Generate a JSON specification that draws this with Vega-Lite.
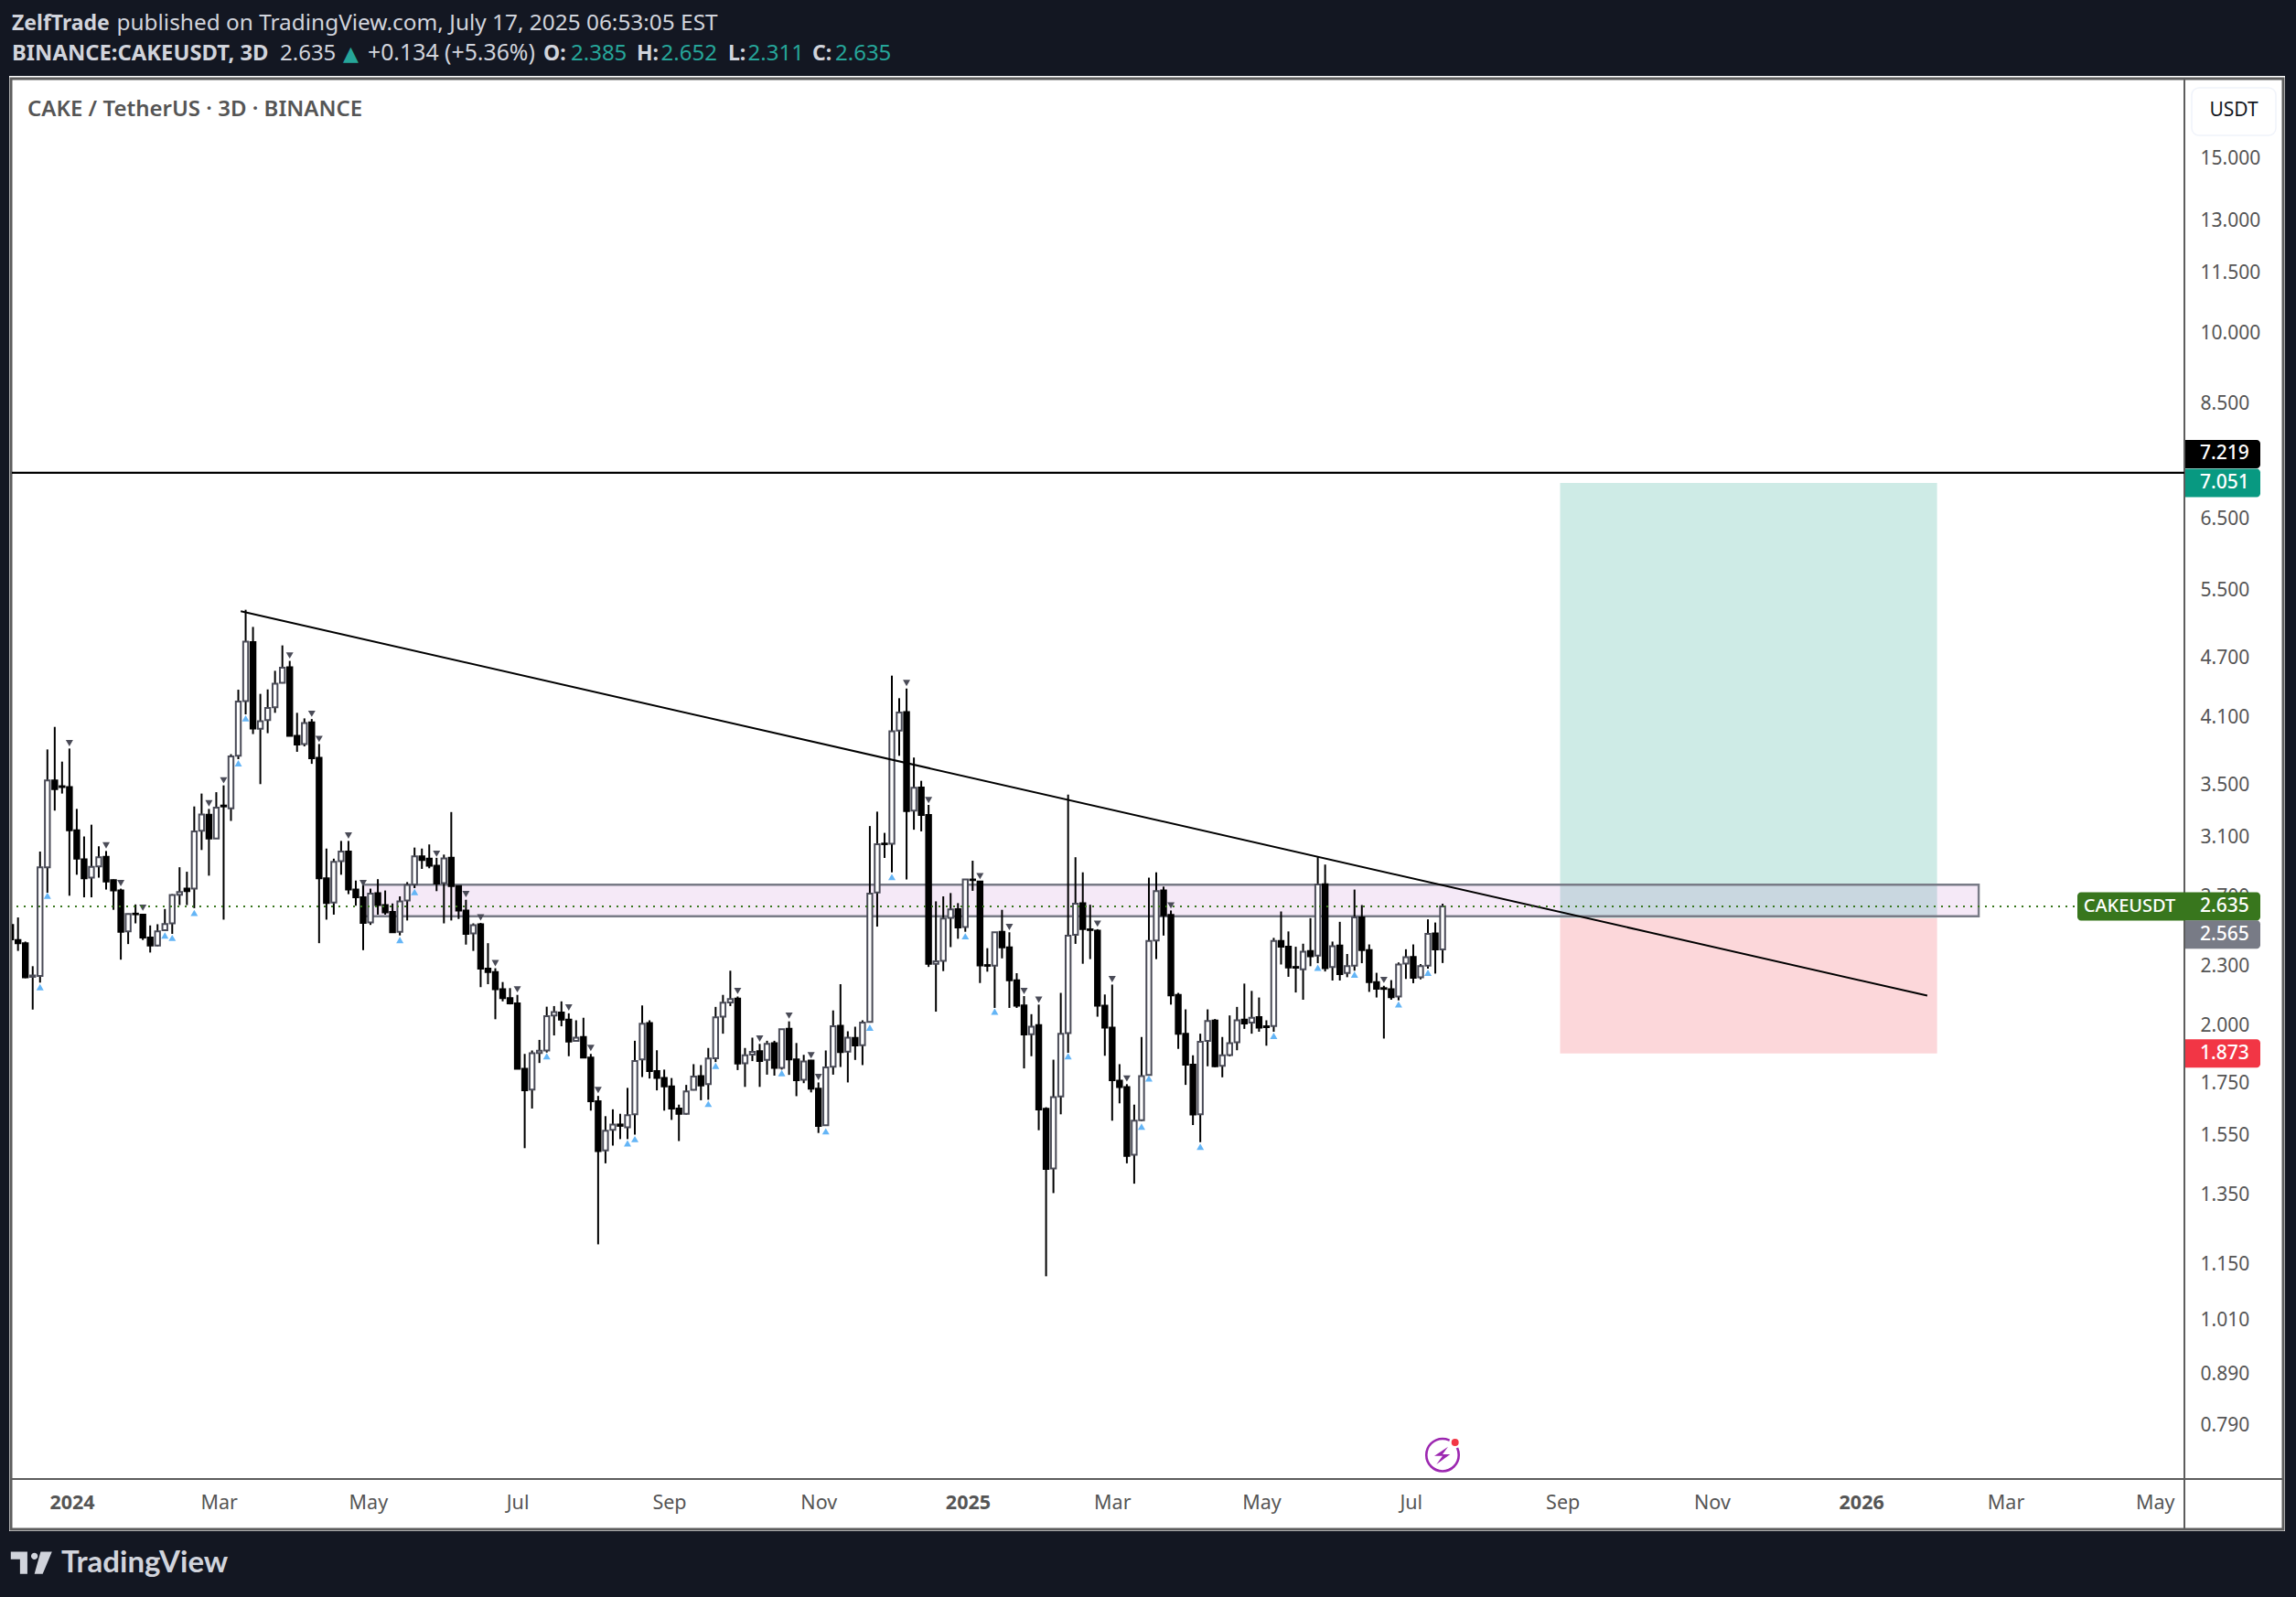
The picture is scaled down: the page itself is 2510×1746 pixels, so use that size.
{"$schema":"https://vega.github.io/schema/vega-lite/v6.json","width":2375,"height":1530,"autosize":"none","padding":{"left":13,"top":87,"right":122,"bottom":129},"background":"#ffffff","config":{"view":{"stroke":null},"font":"Noto Sans"},
"datasets":{"candles":[
{"date":"2023-12-07","open":2.525,"high":2.544,"low":2.429,"close":2.441},
{"date":"2023-12-10","open":2.438,"high":2.569,"low":2.377,"close":2.420},
{"date":"2023-12-13","open":2.420,"high":2.429,"low":2.231,"close":2.235},
{"date":"2023-12-16","open":2.238,"high":2.294,"low":2.074,"close":2.245},
{"date":"2023-12-19","open":2.242,"high":2.994,"low":2.208,"close":2.887},
{"date":"2023-12-22","open":2.887,"high":3.796,"low":2.721,"close":3.533},
{"date":"2023-12-25","open":3.533,"high":4.000,"low":3.293,"close":3.461},
{"date":"2023-12-28","open":3.485,"high":3.690,"low":3.426,"close":3.478},
{"date":"2023-12-31","open":3.478,"high":3.804,"low":2.702,"close":3.145},
{"date":"2024-01-03","open":3.145,"high":3.306,"low":2.837,"close":2.945},
{"date":"2024-01-06","open":2.940,"high":3.101,"low":2.692,"close":2.814},
{"date":"2024-01-09","open":2.818,"high":3.187,"low":2.692,"close":2.889},
{"date":"2024-01-12","open":2.893,"high":3.031,"low":2.818,"close":2.955},
{"date":"2024-01-15","open":2.958,"high":2.998,"low":2.741,"close":2.793},
{"date":"2024-01-18","open":2.802,"high":2.806,"low":2.615,"close":2.735},
{"date":"2024-01-21","open":2.735,"high":2.747,"low":2.329,"close":2.485},
{"date":"2024-01-24","open":2.487,"high":2.592,"low":2.415,"close":2.590},
{"date":"2024-01-27","open":2.592,"high":2.648,"low":2.534,"close":2.588},
{"date":"2024-01-30","open":2.586,"high":2.590,"low":2.438,"close":2.452},
{"date":"2024-02-02","open":2.452,"high":2.522,"low":2.368,"close":2.407},
{"date":"2024-02-05","open":2.407,"high":2.529,"low":2.403,"close":2.487},
{"date":"2024-02-08","open":2.494,"high":2.620,"low":2.490,"close":2.530},
{"date":"2024-02-11","open":2.534,"high":2.712,"low":2.473,"close":2.706},
{"date":"2024-02-14","open":2.708,"high":2.887,"low":2.644,"close":2.725},
{"date":"2024-02-17","open":2.747,"high":2.857,"low":2.644,"close":2.731},
{"date":"2024-02-20","open":2.747,"high":3.325,"low":2.625,"close":3.138},
{"date":"2024-02-23","open":3.142,"high":3.426,"low":3.005,"close":3.264},
{"date":"2024-02-26","open":3.262,"high":3.306,"low":2.831,"close":3.087},
{"date":"2024-02-29","open":3.087,"high":3.437,"low":3.086,"close":3.315},
{"date":"2024-03-03","open":3.332,"high":3.492,"low":2.556,"close":3.325},
{"date":"2024-03-06","open":3.311,"high":3.754,"low":3.215,"close":3.735},
{"date":"2024-03-09","open":3.741,"high":4.361,"low":3.711,"close":4.242},
{"date":"2024-03-12","open":4.248,"high":5.251,"low":4.118,"close":4.876},
{"date":"2024-03-15","open":4.870,"high":5.046,"low":3.934,"close":3.985},
{"date":"2024-03-18","open":3.983,"high":4.319,"low":3.502,"close":4.053},
{"date":"2024-03-21","open":4.063,"high":4.364,"low":3.942,"close":4.180},
{"date":"2024-03-24","open":4.186,"high":4.557,"low":4.133,"close":4.422},
{"date":"2024-03-27","open":4.432,"high":4.834,"low":4.426,"close":4.590},
{"date":"2024-03-30","open":4.594,"high":4.663,"low":3.916,"close":3.918},
{"date":"2024-04-02","open":3.918,"high":4.133,"low":3.775,"close":3.839},
{"date":"2024-04-05","open":3.844,"high":4.080,"low":3.823,"close":4.036},
{"date":"2024-04-08","open":4.042,"high":4.074,"low":3.671,"close":3.719},
{"date":"2024-04-11","open":3.722,"high":3.844,"low":2.420,"close":2.814},
{"date":"2024-04-14","open":2.814,"high":3.015,"low":2.556,"close":2.657},
{"date":"2024-04-17","open":2.659,"high":2.945,"low":2.586,"close":2.923},
{"date":"2024-04-20","open":2.928,"high":3.069,"low":2.837,"close":2.994},
{"date":"2024-04-23","open":2.994,"high":3.069,"low":2.712,"close":2.741},
{"date":"2024-04-26","open":2.741,"high":2.799,"low":2.640,"close":2.692},
{"date":"2024-04-29","open":2.692,"high":2.770,"low":2.381,"close":2.537},
{"date":"2024-05-02","open":2.539,"high":2.747,"low":2.525,"close":2.715},
{"date":"2024-05-05","open":2.718,"high":2.808,"low":2.586,"close":2.644},
{"date":"2024-05-08","open":2.644,"high":2.735,"low":2.586,"close":2.599},
{"date":"2024-05-11","open":2.602,"high":2.654,"low":2.482,"close":2.482},
{"date":"2024-05-14","open":2.485,"high":2.698,"low":2.464,"close":2.667},
{"date":"2024-05-17","open":2.673,"high":2.789,"low":2.551,"close":2.770},
{"date":"2024-05-20","open":2.773,"high":3.022,"low":2.750,"close":2.961},
{"date":"2024-05-23","open":2.961,"high":3.015,"low":2.876,"close":2.936},
{"date":"2024-05-26","open":2.945,"high":3.044,"low":2.880,"close":2.897},
{"date":"2024-05-29","open":2.897,"high":2.951,"low":2.731,"close":2.779},
{"date":"2024-06-01","open":2.783,"high":2.973,"low":2.534,"close":2.947},
{"date":"2024-06-04","open":2.951,"high":3.282,"low":2.551,"close":2.764},
{"date":"2024-06-07","open":2.764,"high":2.764,"low":2.560,"close":2.611},
{"date":"2024-06-10","open":2.611,"high":2.677,"low":2.412,"close":2.473},
{"date":"2024-06-13","open":2.476,"high":2.534,"low":2.377,"close":2.523},
{"date":"2024-06-16","open":2.529,"high":2.537,"low":2.185,"close":2.281},
{"date":"2024-06-19","open":2.281,"high":2.420,"low":2.200,"close":2.263},
{"date":"2024-06-22","open":2.263,"high":2.283,"low":2.028,"close":2.174},
{"date":"2024-06-25","open":2.174,"high":2.211,"low":2.114,"close":2.130},
{"date":"2024-06-28","open":2.130,"high":2.180,"low":2.099,"close":2.104},
{"date":"2024-07-01","open":2.104,"high":2.146,"low":1.806,"close":1.807},
{"date":"2024-07-04","open":1.807,"high":1.871,"low":1.503,"close":1.719},
{"date":"2024-07-07","open":1.722,"high":1.886,"low":1.648,"close":1.874},
{"date":"2024-07-10","open":1.875,"high":1.933,"low":1.832,"close":1.885},
{"date":"2024-07-13","open":1.886,"high":2.088,"low":1.877,"close":2.042},
{"date":"2024-07-16","open":2.046,"high":2.091,"low":1.953,"close":2.062},
{"date":"2024-07-19","open":2.060,"high":2.114,"low":1.995,"close":2.026},
{"date":"2024-07-22","open":2.026,"high":2.056,"low":1.861,"close":1.925},
{"date":"2024-07-25","open":1.928,"high":2.023,"low":1.925,"close":1.943},
{"date":"2024-07-28","open":1.946,"high":2.035,"low":1.855,"close":1.855},
{"date":"2024-07-31","open":1.855,"high":1.871,"low":1.640,"close":1.676},
{"date":"2024-08-03","open":1.676,"high":1.697,"low":1.202,"close":1.493},
{"date":"2024-08-06","open":1.495,"high":1.619,"low":1.451,"close":1.565},
{"date":"2024-08-09","open":1.568,"high":1.645,"low":1.512,"close":1.588},
{"date":"2024-08-12","open":1.588,"high":1.628,"low":1.535,"close":1.583},
{"date":"2024-08-15","open":1.578,"high":1.729,"low":1.535,"close":1.623},
{"date":"2024-08-18","open":1.626,"high":1.929,"low":1.551,"close":1.840},
{"date":"2024-08-21","open":1.847,"high":2.094,"low":1.773,"close":2.007},
{"date":"2024-08-24","open":2.010,"high":2.023,"low":1.767,"close":1.798},
{"date":"2024-08-27","open":1.798,"high":1.887,"low":1.719,"close":1.769},
{"date":"2024-08-30","open":1.769,"high":1.804,"low":1.640,"close":1.735},
{"date":"2024-09-02","open":1.735,"high":1.769,"low":1.605,"close":1.648},
{"date":"2024-09-05","open":1.648,"high":1.663,"low":1.528,"close":1.628},
{"date":"2024-09-08","open":1.628,"high":1.741,"low":1.625,"close":1.715},
{"date":"2024-09-11","open":1.721,"high":1.827,"low":1.719,"close":1.775},
{"date":"2024-09-14","open":1.777,"high":1.823,"low":1.680,"close":1.739},
{"date":"2024-09-17","open":1.744,"high":1.897,"low":1.682,"close":1.851},
{"date":"2024-09-20","open":1.852,"high":2.087,"low":1.836,"close":2.037},
{"date":"2024-09-23","open":2.040,"high":2.146,"low":1.961,"close":2.107},
{"date":"2024-09-26","open":2.109,"high":2.270,"low":2.091,"close":2.125},
{"date":"2024-09-29","open":2.128,"high":2.138,"low":1.802,"close":1.830},
{"date":"2024-10-02","open":1.831,"high":1.897,"low":1.733,"close":1.865},
{"date":"2024-10-05","open":1.868,"high":1.943,"low":1.840,"close":1.880},
{"date":"2024-10-08","open":1.883,"high":1.915,"low":1.733,"close":1.840},
{"date":"2024-10-11","open":1.845,"high":1.929,"low":1.783,"close":1.915},
{"date":"2024-10-14","open":1.918,"high":1.929,"low":1.779,"close":1.811},
{"date":"2024-10-17","open":1.811,"high":1.981,"low":1.804,"close":1.981},
{"date":"2024-10-20","open":1.984,"high":2.018,"low":1.782,"close":1.847},
{"date":"2024-10-23","open":1.847,"high":1.919,"low":1.696,"close":1.760},
{"date":"2024-10-26","open":1.762,"high":1.867,"low":1.748,"close":1.838},
{"date":"2024-10-29","open":1.842,"high":1.845,"low":1.711,"close":1.726},
{"date":"2024-11-01","open":1.726,"high":1.751,"low":1.557,"close":1.583},
{"date":"2024-11-04","open":1.585,"high":1.886,"low":1.583,"close":1.813},
{"date":"2024-11-07","open":1.816,"high":2.070,"low":1.783,"close":1.995},
{"date":"2024-11-10","open":1.997,"high":2.200,"low":1.815,"close":1.879},
{"date":"2024-11-13","open":1.881,"high":1.972,"low":1.751,"close":1.943},
{"date":"2024-11-16","open":1.942,"high":1.993,"low":1.845,"close":1.908},
{"date":"2024-11-19","open":1.909,"high":2.023,"low":1.823,"close":2.012},
{"date":"2024-11-22","open":2.015,"high":3.177,"low":2.012,"close":2.715},
{"date":"2024-11-25","open":2.723,"high":3.285,"low":2.515,"close":3.045},
{"date":"2024-11-28","open":3.050,"high":3.127,"low":2.950,"close":3.046},
{"date":"2024-12-01","open":3.048,"high":4.506,"low":2.853,"close":3.960},
{"date":"2024-12-04","open":3.966,"high":4.276,"low":3.740,"close":4.136},
{"date":"2024-12-07","open":4.140,"high":4.373,"low":2.806,"close":3.290},
{"date":"2024-12-10","open":3.293,"high":3.725,"low":3.150,"close":3.472},
{"date":"2024-12-13","open":3.475,"high":3.529,"low":3.138,"close":3.259},
{"date":"2024-12-16","open":3.259,"high":3.337,"low":2.290,"close":2.307},
{"date":"2024-12-19","open":2.307,"high":2.667,"low":2.064,"close":2.320},
{"date":"2024-12-22","open":2.323,"high":2.698,"low":2.268,"close":2.562},
{"date":"2024-12-25","open":2.566,"high":2.719,"low":2.398,"close":2.617},
{"date":"2024-12-28","open":2.619,"high":2.656,"low":2.445,"close":2.510},
{"date":"2024-12-31","open":2.513,"high":2.806,"low":2.485,"close":2.806},
{"date":"2025-01-03","open":2.806,"high":2.931,"low":2.733,"close":2.802},
{"date":"2025-01-06","open":2.793,"high":2.793,"low":2.206,"close":2.298},
{"date":"2025-01-09","open":2.300,"high":2.392,"low":2.265,"close":2.296},
{"date":"2025-01-12","open":2.297,"high":2.482,"low":2.082,"close":2.482},
{"date":"2025-01-15","open":2.485,"high":2.615,"low":2.336,"close":2.396},
{"date":"2025-01-18","open":2.396,"high":2.482,"low":2.082,"close":2.220},
{"date":"2025-01-21","open":2.220,"high":2.257,"low":2.082,"close":2.093},
{"date":"2025-01-24","open":2.094,"high":2.140,"low":1.809,"close":1.957},
{"date":"2025-01-27","open":1.958,"high":2.052,"low":1.861,"close":1.993},
{"date":"2025-01-30","open":2.001,"high":2.098,"low":1.567,"close":1.644},
{"date":"2025-02-02","open":1.647,"high":1.653,"low":1.116,"close":1.432},
{"date":"2025-02-05","open":1.434,"high":1.846,"low":1.354,"close":1.692},
{"date":"2025-02-08","open":1.695,"high":2.156,"low":1.626,"close":1.961},
{"date":"2025-02-11","open":1.964,"high":3.418,"low":1.876,"close":2.463},
{"date":"2025-02-14","open":2.467,"high":2.955,"low":2.416,"close":2.652},
{"date":"2025-02-17","open":2.656,"high":2.853,"low":2.307,"close":2.500},
{"date":"2025-02-20","open":2.499,"high":2.646,"low":2.332,"close":2.495},
{"date":"2025-02-23","open":2.491,"high":2.500,"low":2.040,"close":2.093},
{"date":"2025-02-26","open":2.093,"high":2.148,"low":1.863,"close":1.989},
{"date":"2025-03-01","open":1.989,"high":2.198,"low":1.602,"close":1.760},
{"date":"2025-03-04","open":1.758,"high":1.827,"low":1.668,"close":1.732},
{"date":"2025-03-07","open":1.732,"high":1.744,"low":1.451,"close":1.476},
{"date":"2025-03-10","open":1.480,"high":1.663,"low":1.384,"close":1.602},
{"date":"2025-03-13","open":1.604,"high":1.946,"low":1.601,"close":1.777},
{"date":"2025-03-16","open":1.782,"high":2.818,"low":1.780,"close":2.432},
{"date":"2025-03-19","open":2.435,"high":2.853,"low":2.332,"close":2.731},
{"date":"2025-03-22","open":2.735,"high":2.760,"low":2.463,"close":2.582},
{"date":"2025-03-25","open":2.584,"high":2.611,"low":2.098,"close":2.144},
{"date":"2025-03-28","open":2.146,"high":2.156,"low":1.893,"close":1.961},
{"date":"2025-03-31","open":1.961,"high":2.075,"low":1.741,"close":1.825},
{"date":"2025-04-03","open":1.825,"high":1.865,"low":1.586,"close":1.625},
{"date":"2025-04-06","open":1.626,"high":1.961,"low":1.524,"close":1.924},
{"date":"2025-04-09","open":1.928,"high":2.075,"low":1.818,"close":2.020},
{"date":"2025-04-12","open":2.022,"high":2.029,"low":1.814,"close":1.818},
{"date":"2025-04-15","open":1.820,"high":1.946,"low":1.772,"close":1.865},
{"date":"2025-04-18","open":1.866,"high":2.046,"low":1.860,"close":1.918},
{"date":"2025-04-21","open":1.922,"high":2.087,"low":1.887,"close":2.023},
{"date":"2025-04-24","open":2.026,"high":2.203,"low":1.983,"close":2.008},
{"date":"2025-04-27","open":2.012,"high":2.166,"low":1.961,"close":2.035},
{"date":"2025-04-30","open":2.038,"high":2.133,"low":1.970,"close":1.989},
{"date":"2025-05-03","open":1.995,"high":2.023,"low":1.907,"close":1.991},
{"date":"2025-05-06","open":1.996,"high":2.450,"low":1.970,"close":2.432},
{"date":"2025-05-09","open":2.432,"high":2.605,"low":2.303,"close":2.401},
{"date":"2025-05-12","open":2.401,"high":2.487,"low":2.238,"close":2.287},
{"date":"2025-05-15","open":2.290,"high":2.400,"low":2.158,"close":2.286},
{"date":"2025-05-18","open":2.277,"high":2.417,"low":2.122,"close":2.372},
{"date":"2025-05-21","open":2.376,"high":2.565,"low":2.294,"close":2.347},
{"date":"2025-05-24","open":2.351,"high":2.955,"low":2.310,"close":2.773},
{"date":"2025-05-27","open":2.775,"high":2.905,"low":2.266,"close":2.284},
{"date":"2025-05-30","open":2.289,"high":2.429,"low":2.219,"close":2.403},
{"date":"2025-06-02","open":2.407,"high":2.543,"low":2.219,"close":2.252},
{"date":"2025-06-05","open":2.258,"high":2.360,"low":2.236,"close":2.294},
{"date":"2025-06-08","open":2.297,"high":2.741,"low":2.270,"close":2.569},
{"date":"2025-06-11","open":2.570,"high":2.644,"low":2.310,"close":2.381},
{"date":"2025-06-14","open":2.381,"high":2.413,"low":2.161,"close":2.211},
{"date":"2025-06-17","open":2.211,"high":2.259,"low":2.133,"close":2.177},
{"date":"2025-06-20","open":2.180,"high":2.192,"low":1.939,"close":2.176},
{"date":"2025-06-23","open":2.174,"high":2.221,"low":2.122,"close":2.135},
{"date":"2025-06-26","open":2.138,"high":2.314,"low":2.119,"close":2.303},
{"date":"2025-06-29","open":2.308,"high":2.386,"low":2.227,"close":2.342},
{"date":"2025-07-02","open":2.344,"high":2.413,"low":2.205,"close":2.233},
{"date":"2025-07-05","open":2.236,"high":2.305,"low":2.225,"close":2.294},
{"date":"2025-07-08","open":2.297,"high":2.558,"low":2.281,"close":2.473},
{"date":"2025-07-11","open":2.475,"high":2.539,"low":2.255,"close":2.385},
{"date":"2025-07-14","open":2.385,"high":2.652,"low":2.311,"close":2.635}
],
"signals":[
{"date":"2023-12-19","price":2.185,"kind":"up"},{"date":"2023-12-22","price":2.702,"kind":"up"},{"date":"2024-02-08","price":2.464,"kind":"up"},{"date":"2024-02-11","price":2.450,"kind":"up"},{"date":"2024-02-20","price":2.596,"kind":"up"},{"date":"2024-03-09","price":3.676,"kind":"up"},{"date":"2024-03-12","price":4.080,"kind":"up"},{"date":"2024-05-14","price":2.438,"kind":"up"},{"date":"2024-05-20","price":2.725,"kind":"up"},{"date":"2024-07-13","price":1.861,"kind":"up"},{"date":"2024-08-15","price":1.520,"kind":"up"},{"date":"2024-08-18","price":1.535,"kind":"up"},{"date":"2024-09-17","price":1.666,"kind":"up"},{"date":"2024-09-20","price":1.820,"kind":"up"},{"date":"2024-10-17","price":1.789,"kind":"up"},{"date":"2024-11-04","price":1.563,"kind":"up"},{"date":"2024-11-22","price":1.989,"kind":"up"},{"date":"2024-12-01","price":2.822,"kind":"up"},{"date":"2024-12-31","price":2.459,"kind":"up"},{"date":"2025-01-12","price":2.064,"kind":"up"},{"date":"2025-02-11","price":1.861,"kind":"up"},{"date":"2025-03-13","price":1.580,"kind":"up"},{"date":"2025-03-16","price":1.767,"kind":"up"},{"date":"2025-04-06","price":1.508,"kind":"up"},{"date":"2025-05-06","price":1.951,"kind":"up"},{"date":"2025-05-24","price":2.286,"kind":"up"},{"date":"2025-06-08","price":2.250,"kind":"up"},{"date":"2025-06-26","price":2.099,"kind":"up"},{"date":"2025-07-08","price":2.259,"kind":"up"},
{"date":"2023-12-31","price":3.852,"kind":"down"},{"date":"2024-01-15","price":3.037,"kind":"down"},{"date":"2024-01-21","price":2.783,"kind":"down"},{"date":"2024-01-30","price":2.628,"kind":"down"},{"date":"2024-02-26","price":3.349,"kind":"down"},{"date":"2024-03-03","price":3.533,"kind":"down"},{"date":"2024-03-30","price":4.722,"kind":"down"},{"date":"2024-04-08","price":4.124,"kind":"down"},{"date":"2024-04-11","price":3.890,"kind":"down"},{"date":"2024-04-23","price":3.108,"kind":"down"},{"date":"2024-04-29","price":2.783,"kind":"down"},{"date":"2024-05-29","price":2.979,"kind":"down"},{"date":"2024-06-10","price":2.712,"kind":"down"},{"date":"2024-06-16","price":2.569,"kind":"down"},{"date":"2024-06-22","price":2.310,"kind":"down"},{"date":"2024-07-01","price":2.174,"kind":"down"},{"date":"2024-07-22","price":2.084,"kind":"down"},{"date":"2024-07-31","price":1.897,"kind":"down"},{"date":"2024-08-03","price":1.720,"kind":"down"},{"date":"2024-09-29","price":2.166,"kind":"down"},{"date":"2024-10-08","price":1.939,"kind":"down"},{"date":"2024-10-20","price":2.045,"kind":"down"},{"date":"2024-10-29","price":1.865,"kind":"down"},{"date":"2024-11-01","price":1.773,"kind":"down"},{"date":"2024-12-07","price":4.430,"kind":"down"},{"date":"2024-12-16","price":3.375,"kind":"down"},{"date":"2025-01-06","price":2.828,"kind":"down"},{"date":"2025-01-18","price":2.513,"kind":"down"},{"date":"2025-01-24","price":2.165,"kind":"down"},{"date":"2025-01-30","price":2.122,"kind":"down"},{"date":"2025-02-23","price":2.532,"kind":"down"},{"date":"2025-03-01","price":2.226,"kind":"down"},{"date":"2025-03-07","price":1.767,"kind":"down"},{"date":"2025-03-25","price":2.642,"kind":"down"},{"date":"2025-06-20","price":2.222,"kind":"down"}
],
"position":[{"start":"2025-08-31","end":"2026-02-01","top":7.051,"bottom":2.565,"kind":"target"},{"start":"2025-08-31","end":"2026-02-01","top":2.565,"bottom":1.873,"kind":"stop"}],
"zone":[{"start":"2024-04-29","end":"2026-02-18","top":2.772,"bottom":2.576}],
"trend":[{"date":"2024-03-10","price":5.233},{"date":"2026-01-28","price":2.142}],
"levels":[{"label":"7.219","price":7.219,"pos":7.539,"kind":"line"},{"label":"7.051","price":7.051,"pos":7.051,"kind":"target"},{"label":"2.635","price":2.635,"pos":2.635,"kind":"last"},{"label":"2.565","price":2.565,"pos":2.469,"kind":"entry"},{"label":"1.873","price":1.873,"pos":1.873,"kind":"stop"}]
},
"layer":[
{"data":{"values":[{}]},"mark":{"type":"rect","x":-13,"x2":2497,"y":-87,"y2":-4,"fill":"#131722"}},
{"data":{"values":[{}]},"mark":{"type":"rect","x":-13,"x2":2497,"y":1587,"y2":1659,"fill":"#131722"}},
{"data":{"values":[{}]},"mark":{"type":"rect","x":-13,"x2":-3,"y":-87,"y2":1659,"fill":"#131722"}},
{"data":{"values":[{}]},"mark":{"type":"rect","x":2485,"x2":2497,"y":-87,"y2":1659,"fill":"#131722"}},
{"data":{"values":[{}]},"mark":{"type":"rect","x":-1,"x2":2483,"y":-1,"y2":1585,"fill":"transparent","stroke":"#5d5d5d","strokeWidth":3}},
{"data":{"values":[{}]},"mark":{"type":"rect","x":2374,"x2":2376,"y":0,"y2":1586,"fill":"#5d5d5d"}},
{"data":{"values":[{}]},"mark":{"type":"rect","x":0,"x2":2483,"y":1529,"y2":1531,"fill":"#5d5d5d"}},
{"data":{"name":"position"},"mark":{"type":"rect","fillOpacity":0.2},"encoding":{
"x":{"field":"start","type":"temporal","title":null,"scale":{"type":"utc","domain":["2023-12-07T12:00:00Z","2026-05-13T01:00:00Z"],"nice":false,"padding":0},"axis":{"title":null,"domain":false,"ticks":false,"grid":false,"labelFont":"Noto Sans","labelFontSize":21.5,"labelColor":"#555555","labelPadding":15.5,"labelOverlap":false,"labelFlush":false,"values":["2024-01-01","2024-03-01","2024-05-01","2024-07-01","2024-09-01","2024-11-01","2025-01-01","2025-03-01","2025-05-01","2025-07-01","2025-09-01","2025-11-01","2026-01-01","2026-03-01","2026-05-01"],"labelExpr":"utcmonth(datum.value)==0 ? utcFormat(datum.value,'%Y') : utcFormat(datum.value,'%b')","labelFontWeight":{"condition":{"test":"utcmonth(datum.value)==0","value":"bold"},"value":"normal"}}},
"x2":{"field":"end"},
"y":{"field":"top","type":"quantitative","title":null,"scale":{"type":"log","domain":[0.6968,18.0],"nice":false},"axis":{"title":null,"orient":"right","domain":false,"ticks":false,"grid":false,"labelFont":"Noto Sans","labelFontSize":21,"labelColor":"#555555","labelPadding":17,"labelOffset":1,"labelOverlap":false,"labelFlush":false,"format":".3f","values":[15,13,11.5,10,8.5,6.5,5.5,4.7,4.1,3.5,3.1,2.7,2.3,2,1.75,1.55,1.35,1.15,1.01,0.89,0.79]}},
"y2":{"field":"bottom"},
"fill":{"field":"kind","type":"nominal","legend":null,"scale":{"domain":["line","target","last","entry","stop"],"range":["#000000","#089981","#38761d","#787b86","#f23645"]}}}},
{"data":{"name":"zone"},"mark":{"type":"rect","fill":"#9c27b0","fillOpacity":0.1,"stroke":"#787b86","strokeWidth":2.4},"encoding":{"x":{"field":"start","type":"temporal"},"x2":{"field":"end"},"y":{"field":"top","type":"quantitative"},"y2":{"field":"bottom"}}},
{"data":{"name":"candles"},"mark":{"type":"rule","color":"#000000","strokeWidth":2,"clip":true},"encoding":{"x":{"field":"date","type":"temporal"},"y":{"field":"high","type":"quantitative"},"y2":{"field":"low"}}},
{"data":{"name":"candles"},"mark":{"type":"bar","size":5.4,"strokeWidth":2,"clip":true},"encoding":{"x":{"field":"date","type":"temporal"},"y":{"field":"open","type":"quantitative"},"y2":{"field":"close"},"fill":{"condition":{"test":"datum.close>datum.open","value":"#ffffff"},"value":"#000000"},"stroke":{"condition":{"test":"datum.close>datum.open","value":"#4a4b57"},"value":"#000000"}}},
{"data":{"name":"signals"},"transform":[{"filter":"datum.kind=='up'"}],"mark":{"type":"point","shape":"triangle-up","filled":true,"size":64,"color":"#64b5f6","opacity":1},"encoding":{"x":{"field":"date","type":"temporal"},"y":{"field":"price","type":"quantitative"}}},
{"data":{"name":"signals"},"transform":[{"filter":"datum.kind=='down'"}],"mark":{"type":"point","shape":"triangle-down","filled":true,"size":64,"color":"#4a4b57","opacity":1},"encoding":{"x":{"field":"date","type":"temporal"},"y":{"field":"price","type":"quantitative"}}},
{"data":{"name":"trend"},"mark":{"type":"line","color":"#000000","strokeWidth":2},"encoding":{"x":{"field":"date","type":"temporal"},"y":{"field":"price","type":"quantitative"}}},
{"data":{"name":"levels"},"transform":[{"filter":"datum.kind=='line'"}],"mark":{"type":"rule","color":"#000000","strokeWidth":2.4},"encoding":{"y":{"field":"price","type":"quantitative"}}},
{"data":{"name":"levels"},"transform":[{"filter":"datum.kind=='last'"}],"mark":{"type":"rule","color":"#38761d","strokeWidth":2,"strokeDash":[2,6]},"encoding":{"y":{"field":"price","type":"quantitative"}}},
{"data":{"name":"levels"},"mark":{"type":"rect","x":2376,"x2":2458,"height":31,"cornerRadiusTopRight":4,"cornerRadiusBottomRight":4},"encoding":{"y":{"field":"pos","type":"quantitative"},"fill":{"field":"kind","type":"nominal","legend":null,"scale":{"domain":["line","target","last","entry","stop"],"range":["#000000","#089981","#38761d","#787b86","#f23645"]}}}},
{"data":{"name":"levels"},"transform":[{"filter":"datum.kind=='last'"}],"mark":{"type":"rect","x":2258,"x2":2376,"height":31,"cornerRadiusTopLeft":4,"cornerRadiusBottomLeft":4,"fill":"#38761d"},"encoding":{"y":{"field":"pos","type":"quantitative"}}},
{"data":{"name":"levels"},"transform":[{"filter":"datum.kind=='last'"}],"mark":{"type":"text","x":2315,"text":"CAKEUSDT","font":"Noto Sans","fontSize":20,"fontWeight":500,"color":"#ffffff","align":"center","baseline":"middle"},"encoding":{"y":{"field":"pos","type":"quantitative"}}},
{"data":{"name":"levels"},"mark":{"type":"text","x":2392,"font":"Noto Sans","fontSize":21,"fontWeight":500,"color":"#ffffff","align":"left","baseline":"middle"},"encoding":{"y":{"field":"pos","type":"quantitative"},"text":{"field":"label"}}},
{"data":{"values":[{}]},"mark":{"type":"rect","x":2383,"x2":2475,"y":9,"y2":61,"fill":"#ffffff","stroke":"#f0f3fa","strokeWidth":1.5,"cornerRadius":8}},
{"data":{"values":[{}]},"mark":{"type":"text","x":2429,"y":34,"text":"USDT","font":"Noto Sans","fontSize":21,"color":"#131722","align":"center","baseline":"middle"}},
{"data":{"values":[{}]},"mark":{"type":"text","x":17,"y":33,"text":"CAKE / TetherUS · 3D · BINANCE","font":"Noto Sans","fontSize":24,"fontWeight":600,"color":"#555555","align":"left","baseline":"middle"}},
{"data":{"values":[{}]},"mark":{"type":"text","x":0,"y":-61,"text":"ZelfTrade","font":"Noto Sans","fontSize":23,"fontWeight":700,"color":"#d1d4dc","align":"left","baseline":"middle"}},
{"data":{"values":[{}]},"mark":{"type":"text","x":114.5,"y":-61,"text":"published on TradingView.com, July 17, 2025 06:53:05 EST","font":"Noto Sans","fontSize":24.4,"color":"#d1d4dc","align":"left","baseline":"middle"}},
{"data":{"values":[{}]},"mark":{"type":"text","x":0,"y":-28,"text":"BINANCE:CAKEUSDT, 3D","font":"Noto Sans","fontSize":23.8,"fontWeight":700,"color":"#d1d4dc","align":"left","baseline":"middle"}},
{"data":{"values":[{}]},"mark":{"type":"text","x":293,"y":-28,"text":"2.635","font":"Noto Sans","fontSize":24,"color":"#d1d4dc","align":"left","baseline":"middle"}},
{"data":{"values":[{}]},"mark":{"type":"text","x":362,"y":-28,"text":"▲","font":"DejaVu Sans","fontSize":22,"color":"#26a69a","align":"left","baseline":"middle"}},
{"data":{"values":[{}]},"mark":{"type":"text","x":389,"y":-28,"text":"+0.134 (+5.36%)","font":"Noto Sans","fontSize":24.8,"color":"#d1d4dc","align":"left","baseline":"middle"}},
{"data":{"values":[{}]},"mark":{"type":"text","x":581,"y":-28,"text":"O:","font":"Noto Sans","fontSize":23,"fontWeight":700,"color":"#d1d4dc","align":"left","baseline":"middle"}},
{"data":{"values":[{}]},"mark":{"type":"text","x":611,"y":-28,"text":"2.385","font":"Noto Sans","fontSize":24,"color":"#26a69a","align":"left","baseline":"middle"}},
{"data":{"values":[{}]},"mark":{"type":"text","x":683,"y":-28,"text":"H:","font":"Noto Sans","fontSize":23,"fontWeight":700,"color":"#d1d4dc","align":"left","baseline":"middle"}},
{"data":{"values":[{}]},"mark":{"type":"text","x":709.6,"y":-28,"text":"2.652","font":"Noto Sans","fontSize":24,"color":"#26a69a","align":"left","baseline":"middle"}},
{"data":{"values":[{}]},"mark":{"type":"text","x":783,"y":-28,"text":"L:","font":"Noto Sans","fontSize":23,"fontWeight":700,"color":"#d1d4dc","align":"left","baseline":"middle"}},
{"data":{"values":[{}]},"mark":{"type":"text","x":804.6,"y":-28,"text":"2.311","font":"Noto Sans","fontSize":24,"color":"#26a69a","align":"left","baseline":"middle"}},
{"data":{"values":[{}]},"mark":{"type":"text","x":875,"y":-28,"text":"C:","font":"Noto Sans","fontSize":23,"fontWeight":700,"color":"#d1d4dc","align":"left","baseline":"middle"}},
{"data":{"values":[{}]},"mark":{"type":"text","x":900,"y":-28,"text":"2.635","font":"Noto Sans","fontSize":24,"color":"#26a69a","align":"left","baseline":"middle"}},
{"data":{"values":[{}]},"mark":{"type":"text","x":54,"y":1622,"text":"TradingView","font":"Lato","fontSize":33,"fontWeight":700,"color":"#d1d4dc","align":"left","baseline":"middle"}},
{"data":{"values":[{}]},"mark":{"type":"point","x":21.3,"y":1621.7,"size":2025,"filled":true,"opacity":1,"color":"#d1d4dc","shape":"M-1 -.537L-.194 -.537L-.194 .537L-.552 .537L-.552 -.179L-1 -.179ZM-.015 -.328A.164 .164 0 1 1 .313 -.328A.164 .164 0 1 1 -.015 -.328ZM.45 -.537L1 -.537L.55 .537L.149 .537Z"}},
{"data":{"values":[{}]},"mark":{"type":"point","x":1564,"y":1503.7,"size":1257,"filled":false,"opacity":1,"stroke":"#9c27b0","strokeWidth":2.6,"shape":"circle"}},
{"data":{"values":[{}]},"mark":{"type":"point","x":1564,"y":1503.7,"size":400,"filled":true,"opacity":1,"color":"#9c27b0","shape":"M.6 -.9L-.9 .1L0 .1L-.67 1.03L.83 -.07L0 -.07Z"}},
{"data":{"values":[{}]},"mark":{"type":"point","x":1577.7,"y":1490,"size":110,"filled":true,"opacity":1,"fill":"#f23645","stroke":"#ffffff","strokeWidth":2.5,"shape":"circle"}}
]}
